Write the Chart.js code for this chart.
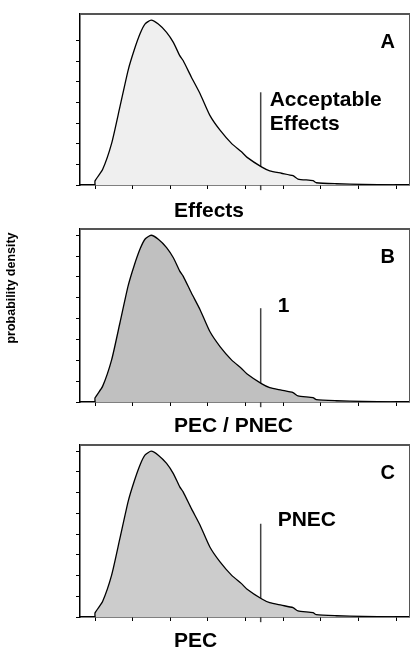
<!DOCTYPE html>
<html>
<head>
<meta charset="utf-8">
<script src="https://cdn.jsdelivr.net/npm/chart.js@4.4.1/dist/chart.umd.min.js"></script>
<style>
  html, body { margin: 0; padding: 0; background: #fff; }
  #wrap { position: relative; width: 410px; height: 649px; overflow: hidden; }
  canvas { position: absolute; left: 0; }
</style>
</head>
<body>
<div id="wrap">
  <canvas id="panelA" width="410" height="218" style="top:0px"></canvas>
  <canvas id="panelB" width="410" height="216" style="top:218px"></canvas>
  <canvas id="panelC" width="410" height="215" style="top:434px"></canvas>
</div>
<script>
// Density curve (same distribution shown in all three panels)
const densityX = [0, 0, 0.2, 0.44, 0.66, 0.88, 1.04, 1.2, 1.33, 1.49, 1.68, 1.9, 2.08, 2.25, 2.34,
                  2.56, 2.79, 3.05, 3.32, 3.63, 3.89, 4.04, 4.42, 4.64, 4.95, 5.26, 5.39, 5.79, 5.88,
                  6.41, 7.12, 7.91, 8.0];
const densityY = [0, 0.2, 0.75, 2.02, 3.79, 5.58, 6.55, 7.36, 7.82, 8.0, 7.81, 7.41, 6.92, 6.28, 6.04,
                  5.23, 4.43, 3.38, 2.66, 2.01, 1.61, 1.34, 0.88, 0.69, 0.57, 0.45, 0.29, 0.21, 0.11,
                  0.06, 0.03, 0.01, 0];

// Threshold marker: position on the x axis and vertical extent
const thresholdValue = 4.4;
const markerRange = [-0.25, 4.5];

// Unlabelled tick positions
const xTickValues = [0, 1, 2, 3, 4, 5, 6, 7, 8];
const yTickValues = [0, 1, 2, 3, 4, 5, 6, 7, 8];

// Panel texts
const panelLetters = ['A', 'B', 'C'];
const axisTitles = ['Effects', 'PEC / PNEC', 'PEC'];
const thresholdLabels = [['Acceptable', 'Effects'], ['1'], ['PNEC']];
const yAxisTitle = 'probability density';

const FONT = 'Arial, "Liberation Sans", Helvetica, sans-serif';

// Per-panel layout (canvas-relative pixels)
const panelLayout = [
  { id: 'panelA', top: 14, bottom: 185, fill: '#efefef', yTickCount: 8, labelDx: 9,  labelDy: 14, titleDy: 31.5 },
  { id: 'panelB', top: 11, bottom: 184, fill: '#c0c0c0', yTickCount: 9, labelDx: 17, labelDy: 4,  titleDy: 30 },
  { id: 'panelC', top: 11, bottom: 183, fill: '#cccccc', yTickCount: 9, labelDx: 17, labelDy: 2.5, titleDy: 30 }
];

const panelDecor = {
  id: 'panelDecor',
  afterDraw(chart, args, opts) {
    const { ctx, chartArea: a, scales: { x, y } } = chart;
    ctx.save();
    // upper and right frame
    ctx.strokeStyle = '#555';
    ctx.lineWidth = 2;
    ctx.beginPath(); ctx.moveTo(a.left, a.top); ctx.lineTo(a.right + 1, a.top); ctx.stroke();
    ctx.lineWidth = 1;
    ctx.beginPath(); ctx.moveTo(a.right + 0.5, a.top); ctx.lineTo(a.right + 0.5, a.bottom); ctx.stroke();

    ctx.fillStyle = '#000';
    ctx.textBaseline = 'alphabetic';

    // panel letter
    ctx.font = 'bold 20px ' + FONT;
    ctx.textAlign = 'right';
    ctx.fillText(opts.letter, a.right - 14, a.top + 34);

    // threshold label next to the marker line
    ctx.font = 'bold 21px ' + FONT;
    ctx.textAlign = 'left';
    const lx = x.getPixelForValue(thresholdValue) + opts.labelDx;
    const ly = y.getPixelForValue(markerRange[1]) + opts.labelDy;
    opts.label.forEach((t, k) => ctx.fillText(t, lx, ly + k * 24));

    // x-axis title
    ctx.fillText(opts.title, a.left + 94, a.bottom + opts.titleDy);

    // shared y-axis title, drawn once in the middle panel
    if (opts.yTitle) {
      ctx.translate(12, 70);
      ctx.rotate(-Math.PI / 2);
      ctx.font = 'bold 12.5px ' + FONT;
      ctx.textAlign = 'center';
      ctx.textBaseline = 'middle';
      ctx.fillText(opts.yTitle, 0, 0);
    }
    ctx.restore();
  }
};

function makePanel(i) {
  const L = panelLayout[i];
  const canvas = document.getElementById(L.id);
  const yTicks = yTickValues.slice(0, L.yTickCount);
  const axisGrid = { drawOnChartArea: false, drawTicks: true, tickLength: 4, color: '#000', tickColor: '#000', lineWidth: 1 };
  new Chart(canvas, {
    type: 'line',
    data: {
      datasets: [
        {
          data: densityX.map((v, k) => ({ x: v, y: densityY[k] })),
          borderColor: '#000',
          borderWidth: 1.3,
          backgroundColor: L.fill,
          fill: 'origin',
          pointRadius: 0,
          tension: 0.2
        },
        {
          data: [{ x: thresholdValue, y: markerRange[0] }, { x: thresholdValue, y: markerRange[1] }],
          borderColor: '#444',
          borderWidth: 1.5,
          pointRadius: 0,
          fill: false,
          clip: false
        }
      ]
    },
    options: {
      responsive: false,
      animation: false,
      events: [],
      layout: { padding: { top: L.top, right: 1, left: 0, bottom: 0 } },
      plugins: {
        legend: { display: false },
        tooltip: { enabled: false },
        panelDecor: {
          letter: panelLetters[i],
          title: axisTitles[i],
          label: thresholdLabels[i],
          labelDx: L.labelDx,
          labelDy: L.labelDy,
          titleDy: L.titleDy,
          yTitle: i === 1 ? yAxisTitle : null
        }
      },
      scales: {
        x: {
          type: 'linear', min: -0.4, max: 8.34, z: 1,
          afterBuildTicks: s => { s.ticks = xTickValues.map(v => ({ value: v })); },
          afterFit: s => { s.height = canvas.height - L.bottom; },
          ticks: { display: false },
          grid: axisGrid,
          border: { color: '#000', width: 1.5 }
        },
        y: {
          type: 'linear', min: 0, max: 8.3, z: 1,
          afterBuildTicks: s => { s.ticks = yTicks.map(v => ({ value: v })); },
          afterFit: s => { s.width = 80; },
          ticks: { display: false },
          grid: axisGrid,
          border: { color: '#000', width: 1.5 }
        }
      }
    },
    plugins: [panelDecor]
  });
}

[0, 1, 2].forEach(makePanel);
</script>
</body>
</html>
